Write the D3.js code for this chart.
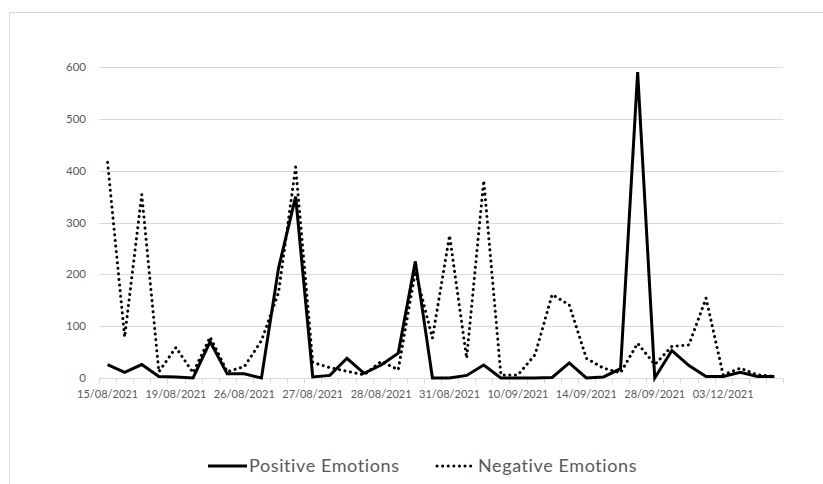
<!DOCTYPE html>
<html>
<head>
<meta charset="utf-8">
<script src="https://cdn.jsdelivr.net/npm/d3@7"></script>
<style>
  body { margin: 0; background: #fff; }
  svg text { font-family: Lato, "Open Sans", sans-serif; fill: #595959; }
</style>
</head>
<body>
<svg id="chart" width="823" height="484"></svg>
<script>
// tick labels shown on the x axis (every 4th point)
var tickLabels = ["15/08/2021", "19/08/2021", "26/08/2021", "27/08/2021", "28/08/2021",
                  "31/08/2021", "10/09/2021", "14/09/2021", "28/09/2021", "03/12/2021"];

var positive = [26, 11, 26, 3, 2, 0, 70, 8, 8, 0,
                212, 350, 2, 5, 38, 9, 25, 48, 225, 0,
                0, 5, 25, 0, 0, 0, 1, 29, 0, 2,
                18, 590, 0, 53, 24, 3, 3, 11, 3, 3];

var negative = [416, 79, 354, 12, 59, 10, 79, 12, 22, 72,
                165, 407, 30, 20, 13, 6, 32, 16, 206, 77,
                275, 38, 381, 6, 6, 45, 161, 141, 38, 19,
                10, 67, 26, 61, 64, 154, 6, 19, 6, 3];

var yTicks = [0, 100, 200, 300, 400, 500, 600];

var svg = d3.select("#chart"),
    margin = {top: 67, right: 40, bottom: 106, left: 99},
    width = 783 - margin.left,
    height = 378 - margin.top;

// chart area border
svg.append("rect")
    .attr("x", 9.5).attr("y", 12.5)
    .attr("width", 840).attr("height", 500)
    .attr("fill", "none")
    .attr("stroke", "#d9d9d9");

var g = svg.append("g").attr("transform", "translate(" + margin.left + "," + margin.top + ")");

var cats = positive.map(function(d, i) { return i; });

var x = d3.scaleBand()
    .domain(cats)
    .range([0, width]);

var y = d3.scaleLinear()
    .domain([0, 600])
    .range([height, 0]);

// gridlines
g.append("g")
    .selectAll("line")
    .data(yTicks.slice(1))
    .enter().append("line")
      .attr("x1", 0)
      .attr("x2", width)
      .attr("y1", function(d) { return Math.round(y(d)) + 0.5; })
      .attr("y2", function(d) { return Math.round(y(d)) + 0.5; })
      .attr("stroke", "#d9d9d9")
      .attr("stroke-width", 1);

// y labels
g.append("g")
    .selectAll("text")
    .data(yTicks)
    .enter().append("text")
      .attr("x", -13)
      .attr("y", function(d) { return y(d); })
      .attr("dy", "0.35em")
      .attr("text-anchor", "end")
      .style("font-size", "11.5px")
      .text(function(d) { return d; });

// x axis baseline + tick marks between categories
var base = g.append("g").attr("transform", "translate(0," + (Math.round(height) + 0.5) + ")");
base.append("line")
    .attr("x1", 0).attr("x2", width)
    .attr("stroke", "#d9d9d9");
base.selectAll("line.tick")
    .data(cats.concat([cats.length]))
    .enter().append("line")
      .attr("class", "tick")
      .attr("x1", function(d) { return Math.round(d * x.step()) + 0.5; })
      .attr("x2", function(d) { return Math.round(d * x.step()) + 0.5; })
      .attr("y1", 0).attr("y2", 5)
      .attr("stroke", "#d9d9d9");

base.selectAll("text")
    .data(tickLabels)
    .enter().append("text")
      .attr("x", function(d, i) { return x(i * 4) + x.bandwidth() / 2; })
      .attr("y", 19)
      .attr("text-anchor", "middle")
      .style("font-size", "11px")
      .text(function(d) { return d; });

var line = d3.line()
    .x(function(d, i) { return x(i) + x.bandwidth() / 2; })
    .y(function(d) { return y(d); });

g.append("path")
    .datum(negative)
    .attr("d", line)
    .attr("fill", "none")
    .attr("stroke", "#000")
    .attr("stroke-width", 3)
    .attr("stroke-linecap", "round")
    .attr("stroke-dasharray", "0.1 5.5");

g.append("path")
    .datum(positive)
    .attr("d", line)
    .attr("fill", "none")
    .attr("stroke", "#000")
    .attr("stroke-width", 3)
    .attr("stroke-linejoin", "miter");

// legend
var legend = svg.append("g").attr("transform", "translate(0,466)");
legend.append("line")
    .attr("x1", 208).attr("x2", 247)
    .attr("stroke", "#000").attr("stroke-width", 3);
legend.append("text")
    .attr("x", 249).attr("dy", "0.35em")
    .style("font-size", "18px")
    .style("letter-spacing", "0.6px")
    .text("Positive Emotions");
legend.append("line")
    .attr("x1", 437).attr("x2", 473)
    .attr("stroke", "#000").attr("stroke-width", 3)
    .attr("stroke-linecap", "round")
    .attr("stroke-dasharray", "0.1 5.5");
legend.append("text")
    .attr("x", 478).attr("dy", "0.35em")
    .style("font-size", "18px")
    .style("letter-spacing", "0.6px")
    .text("Negative Emotions");
</script>
</body>
</html>
